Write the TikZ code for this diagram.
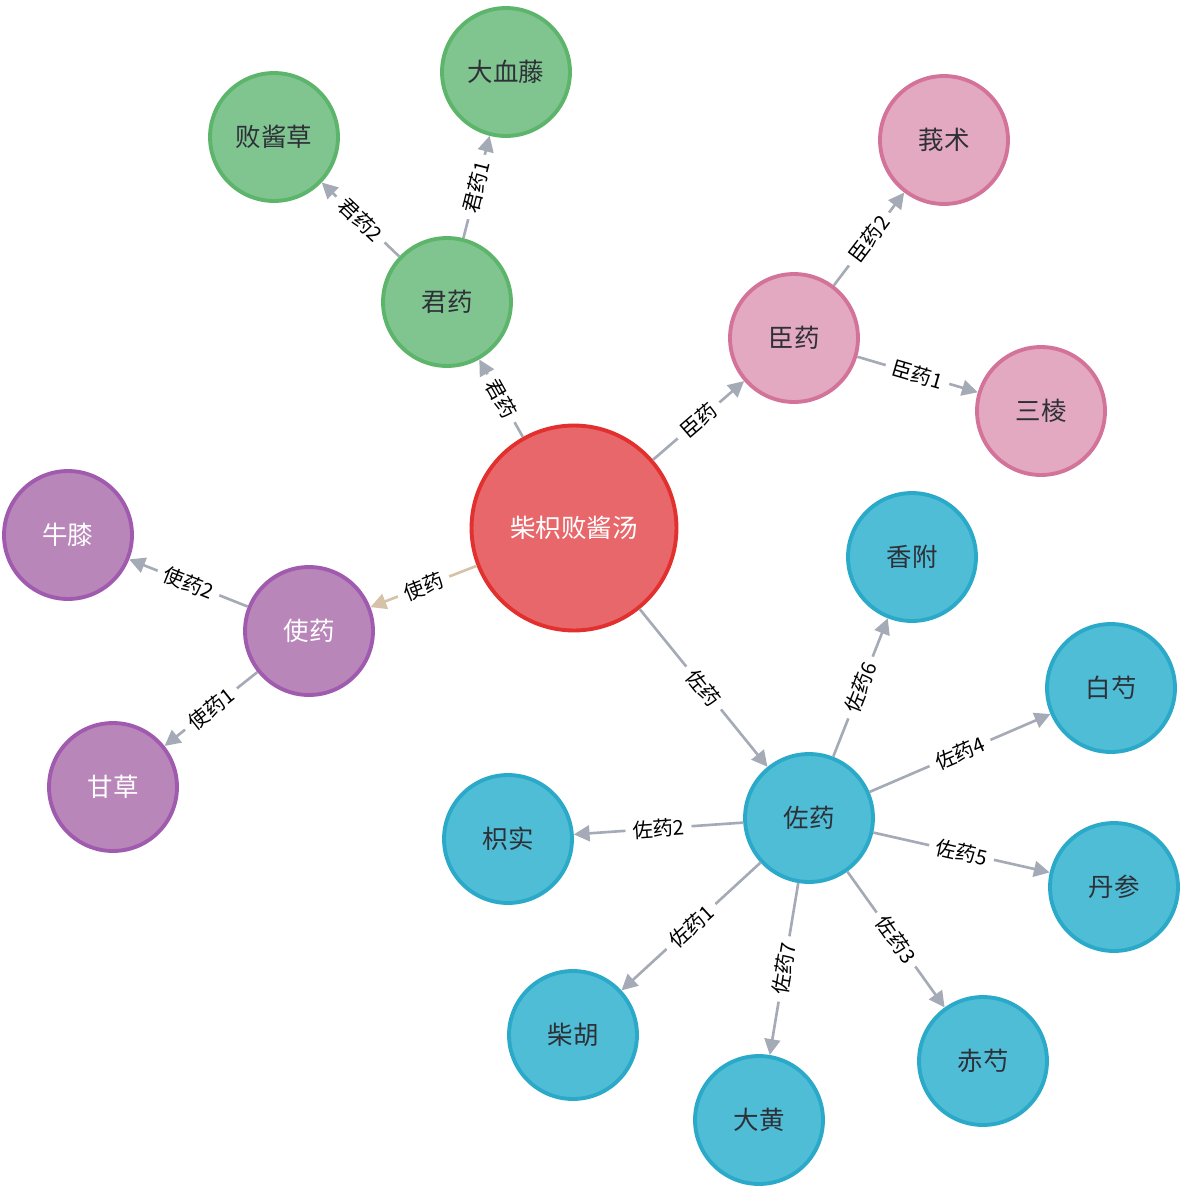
\documentclass[tikz,border=0pt]{standalone}
\usepackage{fontspec}
\setmainfont{Noto Sans CJK SC}
\usetikzlibrary{arrows.meta}

\definecolor{grnfill}{HTML}{80C48F}
\definecolor{grnline}{HTML}{5CB56A}
\definecolor{pnkfill}{HTML}{E3A9C0}
\definecolor{pnkline}{HTML}{D47399}
\definecolor{blufill}{HTML}{4FBDD5}
\definecolor{bluline}{HTML}{2AA9C9}
\definecolor{purfill}{HTML}{B986B9}
\definecolor{purline}{HTML}{A05AAE}
\definecolor{redfill}{HTML}{E8676B}
\definecolor{redline}{HTML}{E1302E}
\definecolor{edgegrey}{HTML}{A5ABB6}
\definecolor{edgetan}{HTML}{D6C2A8}
\definecolor{textdark}{HTML}{2E3038}

\begin{document}
\begin{tikzpicture}[x=0.02cm,y=-0.02cm,
    herb/.style={circle,minimum size=2.56cm,inner sep=0pt,line width=2.2pt,
      font=\fontsize{14.5}{17}\selectfont,text=textdark},
    jun/.style={herb,fill=grnfill,draw=grnline},
    chen/.style={herb,fill=pnkfill,draw=pnkline},
    zuo/.style={herb,fill=blufill,draw=bluline},
    shi/.style={herb,fill=purfill,draw=purline,text=white},
    rel/.style={draw=edgegrey,line width=1.5pt,-{Triangle[length=9pt,width=9pt]}},
    lbl/.style={sloped,midway,fill=white,inner xsep=4pt,inner ysep=1pt,
      font=\fontsize{11.6}{13}\selectfont,text=black}]
    \useasboundingbox (0,0) rectangle (1185,1191);

    % formula
    \node[herb,minimum size=4.1cm,fill=redfill,draw=redline,text=white] (fang) at (574,528) {柴枳败酱汤};

    % roles
    \node[jun] (junyao) at (447,302) {君药};
    \node[chen] (chenyao) at (794,338) {臣药};
    \node[shi] (shiyao) at (309,631) {使药};
    \node[zuo] (zuoyao) at (809,818) {佐药};

    % herbs
    \node[jun] (baijiang) at (274,137) {败酱草};
    \node[jun] (daxueteng) at (506,72) {大血藤};
    \node[chen] (ezhu) at (944,140) {莪术};
    \node[chen] (sanleng) at (1041,411) {三棱};
    \node[shi] (niuxi) at (68,535) {牛膝};
    \node[shi] (gancao) at (113,787) {甘草};
    \node[zuo] (xiangfu) at (912,557) {香附};
    \node[zuo] (baishao) at (1111,688) {白芍};
    \node[zuo] (danshen) at (1114,887) {丹参};
    \node[zuo] (chishao) at (983,1061) {赤芍};
    \node[zuo] (dahuang) at (759,1120) {大黄};
    \node[zuo] (chaihu) at (573,1035) {柴胡};
    \node[zuo] (zhishi) at (508,839) {枳实};

    % relations
    \draw[rel] (fang) -- node[lbl] {君药} (junyao);
    \draw[rel] (junyao) -- node[lbl] {君药1} (daxueteng);
    \draw[rel] (junyao) -- node[lbl] {君药2} (baijiang);
    \draw[rel] (fang) -- node[lbl] {臣药} (chenyao);
    \draw[rel] (chenyao) -- node[lbl] {臣药1} (sanleng);
    \draw[rel] (chenyao) -- node[lbl] {臣药2} (ezhu);
    \draw[rel,draw=edgetan] (fang) -- node[lbl] {使药} (shiyao);
    \draw[rel] (shiyao) -- node[lbl] {使药1} (gancao);
    \draw[rel] (shiyao) -- node[lbl] {使药2} (niuxi);
    \draw[rel] (fang) -- node[lbl] {佐药} (zuoyao);
    \draw[rel] (zuoyao) -- node[lbl] {佐药1} (chaihu);
    \draw[rel] (zuoyao) -- node[lbl] {佐药2} (zhishi);
    \draw[rel] (zuoyao) -- node[lbl] {佐药3} (chishao);
    \draw[rel] (zuoyao) -- node[lbl] {佐药4} (baishao);
    \draw[rel] (zuoyao) -- node[lbl] {佐药5} (danshen);
    \draw[rel] (zuoyao) -- node[lbl] {佐药6} (xiangfu);
    \draw[rel] (zuoyao) -- node[lbl] {佐药7} (dahuang);
\end{tikzpicture}
\end{document}
